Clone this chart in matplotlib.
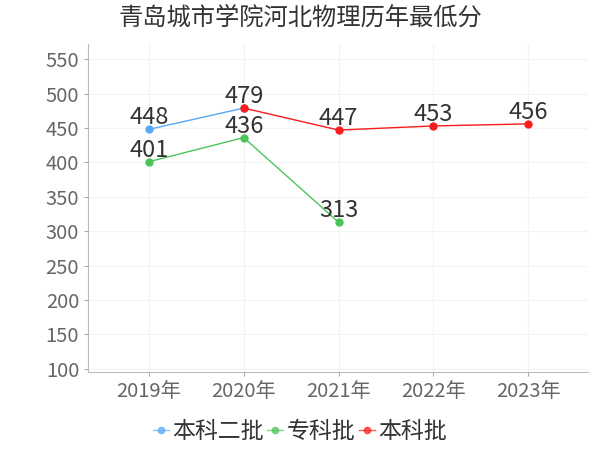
import numpy as np
import matplotlib
matplotlib.use("Agg")
import matplotlib.pyplot as plt

plt.rcParams['font.family'] = ['Noto Sans CJK SC', 'DejaVu Sans']

years = ["2019年", "2020年", "2021年", "2022年", "2023年"]
names = ["本科二批", "专科批", "本科批"]
benke2 = [448, 479, np.nan, np.nan, np.nan]
zhuanke = [401, 436, 313, np.nan, np.nan]
benke = [np.nan, 479, 447, 453, 456]
colors = ["#58a9f5", "#4cc45a", "#fb1c1c"]

fig = plt.figure(figsize=(6, 4.5), dpi=100)
ax = fig.add_axes([0.147, 0.173, 0.833, 0.729])

x = np.arange(len(years))
done = set()
for name, vals, c in zip(names, [benke2, zhuanke, benke], colors):
    ax.plot(x, vals, color=c, lw=1, marker="o", ms=5, label=name, zorder=3)
    for xi, v in zip(x, vals):
        if np.isnan(v) or (xi, v) in done:
            continue
        done.add((xi, v))
        ax.annotate(f"{v:.0f}", (xi, v), xytext=(0, 0), textcoords="offset points",
                    ha="center", va="bottom", fontsize=17, color="#333333", zorder=4)

ax.set_xlim(-0.64, 4.63)
ax.set_ylim(95, 572)
ax.set_xticks(x)
ax.set_xticklabels(years)
ax.set_yticks(range(100, 551, 50))
ax.tick_params(axis="both", colors="#aaaaaa", labelcolor="#666666", labelsize=14.5, length=3)
ax.grid(True, color="#f3f3f3", lw=0.8)
ax.set_axisbelow(True)
for s in ["top", "right"]:
    ax.spines[s].set_visible(False)
for s in ["left", "bottom"]:
    ax.spines[s].set_color("#bbbbbb")

fig.suptitle("青岛城市学院河北物理历年最低分", x=0.5, y=0.99, fontsize=17.5, color="#333333")
leg = fig.legend(loc="center", bbox_to_anchor=(0.5, 0.04), ncol=3, frameon=False,
                 fontsize=16.5, handlelength=0.7, handletextpad=0.15, columnspacing=0.15, markerscale=0.9)
for t in leg.get_texts():
    t.set_color("#333333")
for h in leg.get_lines():
    h.set_alpha(0.7)

fig.savefig("out.png", dpi=100)
